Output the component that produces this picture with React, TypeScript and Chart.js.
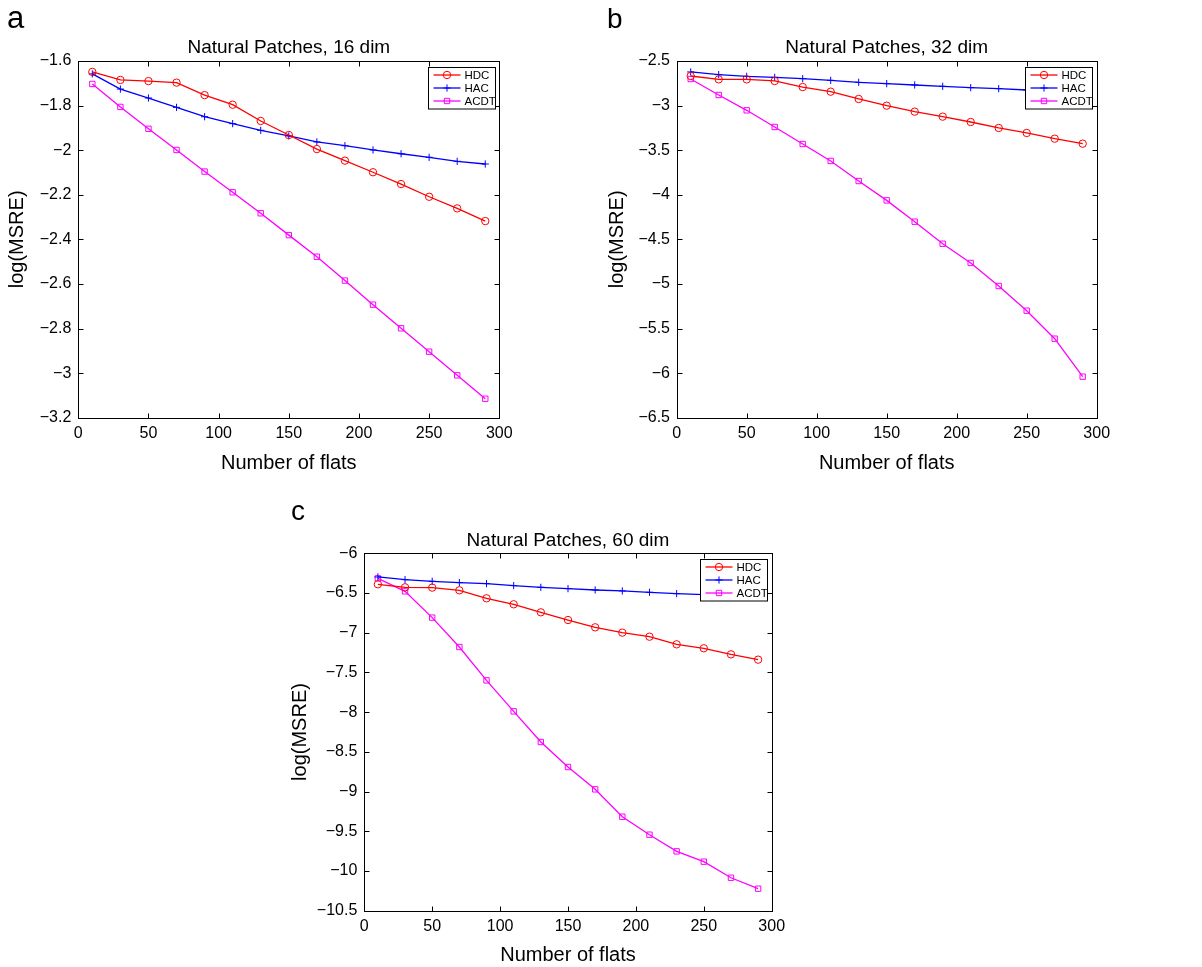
import React, { useEffect, useRef } from 'react';
import { Chart, registerables } from 'chart.js';

Chart.register(...registerables);

const FONT = "'Liberation Sans', Arial, Helvetica, sans-serif";

// ---------- data ----------
const flats = [10, 30, 50, 70, 90, 110, 130, 150, 170, 190, 210, 230, 250, 270, 290];
const xTicks = [0, 50, 100, 150, 200, 250, 300];

const hdc16 = [-1.649, -1.685, -1.690, -1.697, -1.753, -1.796, -1.869, -1.932, -1.995, -2.047, -2.099, -2.152, -2.209, -2.261, -2.318];
const hac16 = [-1.658, -1.726, -1.766, -1.808, -1.850, -1.881, -1.911, -1.936, -1.963, -1.980, -1.999, -2.016, -2.032, -2.050, -2.062];
const acdt16 = [-1.703, -1.806, -1.904, -1.999, -2.096, -2.189, -2.283, -2.381, -2.478, -2.585, -2.693, -2.799, -2.904, -3.010, -3.115];
const yTicks16 = [-3.2, -3, -2.8, -2.6, -2.4, -2.2, -2, -1.8, -1.6];

const hdc32 = [-2.668, -2.706, -2.706, -2.724, -2.792, -2.844, -2.926, -3.001, -3.068, -3.124, -3.184, -3.251, -3.307, -3.371, -3.427];
const hac32 = [-2.623, -2.653, -2.672, -2.683, -2.698, -2.717, -2.739, -2.754, -2.769, -2.784, -2.799, -2.810, -2.825, -2.840, -2.855];
const acdt32 = [-2.702, -2.881, -3.053, -3.240, -3.431, -3.621, -3.846, -4.063, -4.302, -4.549, -4.765, -5.023, -5.300, -5.614, -6.040];
const yTicks32 = [-6.5, -6, -5.5, -5, -4.5, -4, -3.5, -3, -2.5];

const hdc60 = [-6.390, -6.428, -6.432, -6.466, -6.567, -6.642, -6.743, -6.840, -6.932, -6.999, -7.050, -7.146, -7.196, -7.272, -7.339];
const hac60 = [-6.298, -6.332, -6.353, -6.369, -6.382, -6.407, -6.428, -6.445, -6.462, -6.474, -6.491, -6.508, -6.521, -6.533, -6.546];
const acdt60 = [-6.315, -6.479, -6.810, -7.180, -7.600, -7.990, -8.376, -8.691, -8.972, -9.317, -9.543, -9.753, -9.883, -10.085, -10.223];
const yTicks60 = [-10.5, -10, -9.5, -9, -8.5, -8, -7.5, -7, -6.5, -6];

const seriesNames = ['HDC', 'HAC', 'ACDT'];
const xLabel = 'Number of flats';
const yLabel = 'log(MSRE)';

// ---------- layout ----------
type Panel = {
  letter: string;
  letterSize: number;
  letterX: number;
  letterY: number;
  title: string;
  left: number;
  top: number;
  w: number;
  h: number;
  plotLeft: number;
  plotTop: number;
  plotRight: number;
  plotBottom: number;
  yTitlePad: number;
  xTitlePad: number;
  xTickPad: number;
  yTickPad: number;
  yTicks: number[];
  hdc: number[];
  hac: number[];
  acdt: number[];
};

const panels: Panel[] = [
  {
    letter: 'a', letterSize: 31, letterX: 7, letterY: 28,
    title: 'Natural Patches, 16 dim',
    left: 0, top: 0, w: 600, h: 480,
    plotLeft: 78.3, plotTop: 61, plotRight: 499.3, plotBottom: 417.7,
    yTitlePad: 5, xTitlePad: 4.7, xTickPad: 6, yTickPad: 7,
    yTicks: yTicks16, hdc: hdc16, hac: hac16, acdt: acdt16,
  },
  {
    letter: 'b', letterSize: 28, letterX: 7, letterY: 28,
    title: 'Natural Patches, 32 dim',
    left: 600, top: 0, w: 602, h: 480,
    plotLeft: 76.7, plotTop: 61, plotRight: 496.7, plotBottom: 417.7,
    yTitlePad: 5, xTitlePad: 4.7, xTickPad: 6, yTickPad: 6.7,
    yTicks: yTicks32, hdc: hdc32, hac: hac32, acdt: acdt32,
  },
  {
    letter: 'c', letterSize: 28, letterX: 11, letterY: 30,
    title: 'Natural Patches, 60 dim',
    left: 280, top: 490, w: 620, h: 477,
    plotLeft: 84.3, plotTop: 63.3, plotRight: 491.7, plotBottom: 420.7,
    yTitlePad: 8, xTitlePad: 0, xTickPad: 6.4, yTickPad: 7,
    yTicks: yTicks60, hdc: hdc60, hac: hac60, acdt: acdt60,
  },
];

const colors = ['#ff0000', '#0000ff', '#ff00ff'];
const styles = ['circle', 'cross', 'rect'];
const radii = [3.7, 3.6, 3.8];

function fmt(v: number): string {
  return String(Number(v.toFixed(2))).replace('-', '\u2212');
}

function drawMarker(ctx: CanvasRenderingContext2D, style: string, x: number, y: number, r: number) {
  ctx.beginPath();
  if (style === 'circle') {
    ctx.arc(x, y, r, 0, Math.PI * 2);
  } else if (style === 'cross') {
    ctx.moveTo(x - r, y);
    ctx.lineTo(x + r, y);
    ctx.moveTo(x, y - r);
    ctx.lineTo(x, y + r);
  } else {
    const s = r * Math.SQRT1_2;
    ctx.rect(x - s, y - s, 2 * s, 2 * s);
  }
  ctx.stroke();
}

function ChartPanel({ p }: { p: Panel }) {
  const ref = useRef<HTMLCanvasElement | null>(null);

  useEffect(() => {
    if (!ref.current) return;
    const series = [p.hdc, p.hac, p.acdt];

    const decor = {
      id: 'decor',
      beforeDatasetsDraw(chart: any) {
        const { ctx, chartArea: a, scales } = chart;
        ctx.save();
        ctx.strokeStyle = '#000';
        ctx.lineWidth = 1;
        const L = Math.round(a.left) + 0.5;
        const R = Math.round(a.right) + 0.5;
        const T = Math.round(a.top) + 0.5;
        const B = Math.round(a.bottom) + 0.5;
        ctx.strokeRect(L, T, R - L, B - T);
        const tl = 5;
        ctx.beginPath();
        scales.x.ticks.forEach((t: any) => {
          const px = Math.round(scales.x.getPixelForValue(t.value)) + 0.5;
          ctx.moveTo(px, B);
          ctx.lineTo(px, B - tl);
          ctx.moveTo(px, T);
          ctx.lineTo(px, T + tl);
        });
        scales.y.ticks.forEach((t: any) => {
          const py = Math.round(scales.y.getPixelForValue(t.value)) + 0.5;
          ctx.moveTo(L, py);
          ctx.lineTo(L + tl, py);
          ctx.moveTo(R, py);
          ctx.lineTo(R - tl, py);
        });
        ctx.stroke();
        ctx.restore();
      },
      afterDraw(chart: any) {
        const { ctx, chartArea: a } = chart;
        ctx.save();
        // panel letter
        ctx.fillStyle = '#000';
        ctx.font = `${p.letterSize}px ${FONT}`;
        ctx.textAlign = 'left';
        ctx.textBaseline = 'alphabetic';
        ctx.fillText(p.letter, p.letterX, p.letterY);
        // title
        ctx.font = `19px ${FONT}`;
        ctx.textAlign = 'center';
        ctx.fillText(p.title, (a.left + a.right) / 2, a.top - 7.7);
        // legend
        const bw = 67;
        const bh = 41.5;
        const bx = Math.round(a.right - 4.5 - bw) + 0.5;
        const by = Math.round(a.top + 6) + 0.5;
        ctx.fillStyle = '#fff';
        ctx.fillRect(bx, by, bw, bh);
        ctx.strokeStyle = '#000';
        ctx.lineWidth = 1;
        ctx.strokeRect(bx, by, bw, bh);
        chart.data.datasets.forEach((ds: any, i: number) => {
          const cy = by + 7.5 + 13 * i;
          ctx.strokeStyle = ds.borderColor;
          ctx.lineWidth = ds.borderWidth;
          ctx.beginPath();
          ctx.moveTo(bx + 5, cy);
          ctx.lineTo(bx + 32, cy);
          ctx.stroke();
          ctx.lineWidth = 1;
          drawMarker(ctx, ds.pointStyle, bx + 18.5, cy, ds.pointRadius);
          ctx.fillStyle = '#000';
          ctx.font = `11.5px ${FONT}`;
          ctx.textAlign = 'left';
          ctx.textBaseline = 'middle';
          ctx.fillText(ds.label, bx + 36, cy + 0.5);
        });
        ctx.restore();
      },
    };

    const chart = new Chart(ref.current, {
      type: 'line',
      data: {
        datasets: seriesNames.map((name, i) => ({
          label: name,
          data: flats.map((x, j) => ({ x, y: series[i][j] })),
          borderColor: colors[i],
          backgroundColor: colors[i],
          borderWidth: 1.3,
          pointStyle: styles[i],
          pointRadius: radii[i],
          pointBorderWidth: 1,
          pointBorderColor: colors[i],
          pointBackgroundColor: 'rgba(0,0,0,0)',
          tension: 0,
          fill: false,
        })),
      },
      options: {
        animation: false,
        responsive: false,
        devicePixelRatio: 1,
        events: [],
        layout: {
          padding: { left: 0, top: p.plotTop, right: p.w - p.plotRight, bottom: 0 },
        },
        plugins: {
          legend: { display: false },
          title: { display: false },
          tooltip: { enabled: false },
        },
        scales: {
          x: {
            type: 'linear',
            min: 0,
            max: 300,
            afterBuildTicks: (s: any) => {
              s.ticks = xTicks.map((v) => ({ value: v }));
            },
            afterFit: (s: any) => {
              s.height = p.h - p.plotBottom;
            },
            grid: { display: false, drawTicks: false, tickLength: 0 },
            border: { display: false },
            ticks: {
              color: '#000',
              padding: p.xTickPad,
              maxRotation: 0,
              font: { family: FONT, size: 16 },
              callback: (v: any) => fmt(Number(v)),
            },
            title: {
              display: true,
              text: xLabel,
              color: '#000',
              font: { family: FONT, size: 20 },
              padding: { top: 0, bottom: p.xTitlePad },
            },
          },
          y: {
            type: 'linear',
            min: p.yTicks[0],
            max: p.yTicks[p.yTicks.length - 1],
            afterBuildTicks: (s: any) => {
              s.ticks = p.yTicks.map((v) => ({ value: v }));
            },
            afterFit: (s: any) => {
              s.width = p.plotLeft;
            },
            grid: { display: false, drawTicks: false, tickLength: 0 },
            border: { display: false },
            ticks: {
              color: '#000',
              padding: p.yTickPad,
              font: { family: FONT, size: 16 },
              callback: (v: any) => fmt(Number(v)),
            },
            title: {
              display: true,
              text: yLabel,
              color: '#000',
              font: { family: FONT, size: 20 },
              padding: { top: p.yTitlePad, bottom: 0 },
            },
          },
        },
      },
      plugins: [decor],
    } as any);

    return () => {
      chart.destroy();
    };
  }, [p]);

  return (
    <canvas
      ref={ref}
      width={p.w}
      height={p.h}
      style={{ position: 'absolute', left: p.left, top: p.top, width: p.w, height: p.h }}
    />
  );
}

export default function App() {
  return (
    <div style={{ position: 'absolute', left: 0, top: 0, width: 1202, height: 967, background: '#fff' }}>
      {panels.map((p) => (
        <ChartPanel key={p.letter} p={p} />
      ))}
    </div>
  );
}
